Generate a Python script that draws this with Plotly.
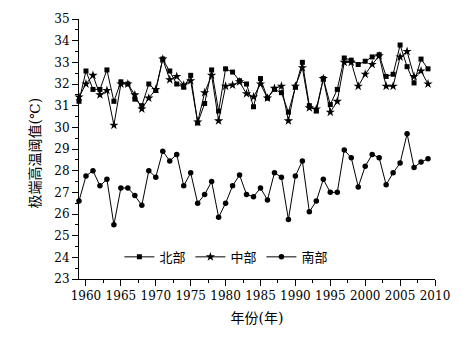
import plotly.graph_objects as go

# Annual extreme high-temperature thresholds (°C), 1959-2009
years = list(range(1959, 2010))

north = [31.2, 32.6, 31.75, 31.75, 32.65, 31.2, 32.1, 32.0, 31.3, 31.0,
         32.0, 31.7, 33.15, 32.6, 32.0, 31.85, 32.4, 30.2, 31.1, 32.65,
         30.75, 32.7, 32.55, 32.15, 32.0, 30.95, 32.25, 31.35, 31.75, 31.6,
         30.7, 31.85, 33.0, 31.0, 30.75, 32.25, 31.05, 31.75, 33.2, 33.1,
         32.9, 33.05, 33.25, 33.35, 32.35, 32.45, 33.8, 32.8, 32.05, 33.15,
         32.7]

central = [31.4, 32.0, 32.4, 31.5, 31.7, 30.1, 32.0, 32.0, 31.5, 30.85,
           31.35, 31.75, 33.15, 32.2, 32.35, 31.95, 32.15, 30.25, 31.6, 32.4,
           30.3, 31.9, 31.95, 32.1, 31.55, 31.4, 32.0, 31.35, 31.8, 31.9,
           30.3, 31.9, 32.75, 30.9, 30.85, 32.25, 30.7, 31.2, 33.0, 33.0,
           31.9, 32.45, 32.9, 33.3, 31.9, 31.9, 33.25, 33.5, 32.35, 32.6,
           32.0]

south = [26.6, 27.75, 28.0, 27.3, 27.6, 25.5, 27.2, 27.2, 26.85, 26.4,
         28.0, 27.7, 28.9, 28.45, 28.75, 27.3, 27.9, 26.5, 26.9, 27.5,
         25.85, 26.5, 27.3, 27.8, 26.9, 26.8, 27.2, 26.65, 27.9, 27.7,
         25.75, 27.75, 28.45, 26.1, 26.6, 27.6, 27.0, 27.0, 28.95, 28.6,
         27.25, 28.2, 28.75, 28.6, 27.35, 27.9, 28.35, 29.7, 28.15, 28.4,
         28.55]

series = [("北部", north, "square", 5),
          ("中部", central, "star", 7),
          ("南部", south, "circle", 5.5)]

FONT = "DejaVu Serif, Noto Sans CJK SC, serif"

fig = go.Figure()
for name, vals, sym, size in series:
    fig.add_trace(go.Scatter(
        x=years, y=vals, name=name, mode="lines+markers",
        line=dict(color="black", width=1),
        marker=dict(symbol=sym, size=size, color="black"),
        cliponaxis=False,
    ))

axis_common = dict(
    showline=True, linecolor="black", linewidth=1,
    ticks="outside", ticklen=6, tickwidth=1, tickcolor="black",
    showgrid=False, zeroline=False, mirror=False,
    tickfont=dict(family=FONT, size=12, color="black"),
)

fig.update_xaxes(
    range=[1959, 2010], tickmode="linear", tick0=1960, dtick=5,
    minor=dict(ticks="outside", ticklen=3, dtick=2.5, tick0=1960,
               tickcolor="black"),
    title=dict(text="年份(年)", font=dict(family=FONT, size=14, color="black"),
               standoff=10),
    **axis_common,
)
fig.update_yaxes(
    range=[23, 35], tickmode="linear", tick0=23, dtick=1,
    minor=dict(ticks="outside", ticklen=3, dtick=0.5, tick0=23,
               tickcolor="black"),
    **axis_common,
)

# Vertical y-axis title placed close to the tick labels
fig.add_annotation(
    text="极端高温阈值(℃)", textangle=-90,
    xref="paper", yref="paper", x=-0.125, y=0.485,
    xanchor="center", yanchor="middle", showarrow=False,
    font=dict(family=FONT, size=14, color="black"),
)

fig.update_layout(
    width=462, height=338,
    margin=dict(l=79, r=26, t=17, b=59),
    paper_bgcolor="white", plot_bgcolor="white",
    showlegend=True,
    legend=dict(orientation="h", x=0.414, y=0.085, xanchor="center",
                yanchor="middle", bgcolor="rgba(0,0,0,0)",
                font=dict(family=FONT, size=13, color="black"),
                itemwidth=30, tracegroupgap=0),
)

fig.write_html("out.html")
